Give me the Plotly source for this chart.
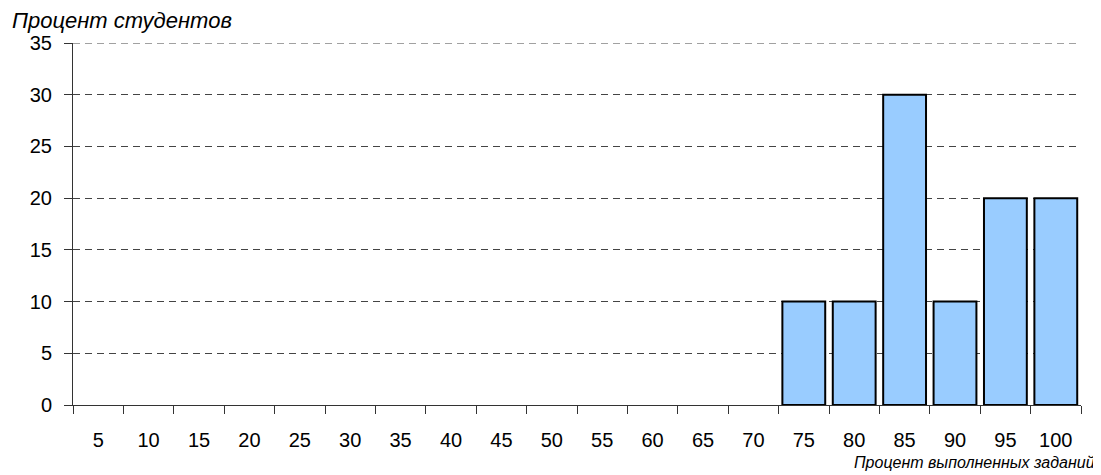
import plotly.graph_objects as go

categories = ["5", "10", "15", "20", "25", "30", "35", "40", "45", "50",
              "55", "60", "65", "70", "75", "80", "85", "90", "95", "100"]
values = [0, 0, 0, 0, 0, 0, 0, 0, 0, 0, 0, 0, 0, 0, 10, 10, 30, 10, 20, 20]
y_ticks = [0, 5, 10, 15, 20, 25, 30, 35]
y_title = "Процент студентов"
x_title = "Процент выполненных заданий"

font = "Liberation Sans, Arial, sans-serif"
axis_col = "#333333"
grid_col = "#444444"

fig = go.Figure(go.Bar(
    x=categories, y=[v if v else None for v in values],
    marker=dict(color="#99CCFF", line=dict(color="#000000", width=2)),
))

fig.update_layout(
    width=1093, height=467,
    margin=dict(l=65, r=20, t=35, b=70),
    plot_bgcolor="white", paper_bgcolor="white",
    bargap=0.15, showlegend=False,
    font=dict(family=font, size=20, color="#000000"),
)
fig.update_xaxes(
    type="category", tickson="boundaries", ticks="outside", ticklen=8,
    tickcolor=axis_col, showline=True, linecolor=axis_col, linewidth=1,
    showgrid=False, ticklabelstandoff=17, tickfont=dict(size=20),
)
fig.update_yaxes(
    range=[0, 35], tickvals=y_ticks, ticks="outside", ticklen=8,
    tickcolor=axis_col, showline=True, linecolor=axis_col, linewidth=1,
    showgrid=True, gridcolor=grid_col, gridwidth=1, griddash="7px,5px",
    zeroline=False, tickfont=dict(size=20), ticklabelstandoff=8,
)
# top gridline (at the range edge, which plotly does not draw)
fig.add_shape(type="line", xref="paper", yref="y", x0=0, x1=1,
              y0=y_ticks[-1], y1=y_ticks[-1],
              line=dict(color=grid_col, width=1, dash="7px,5px"), layer="above")
fig.add_annotation(text=y_title, xref="paper", yref="paper", x=-0.0625, y=1.0,
                   xanchor="left", yanchor="middle", yshift=23, showarrow=False,
                   font=dict(family=font, size=22, style="italic"))
fig.add_annotation(text=x_title, xref="paper", yref="paper", x=1.0159, y=0,
                   xanchor="right", yanchor="middle", yshift=-57, showarrow=False,
                   font=dict(family=font, size=16, style="italic"))

fig.write_html("out.html")
